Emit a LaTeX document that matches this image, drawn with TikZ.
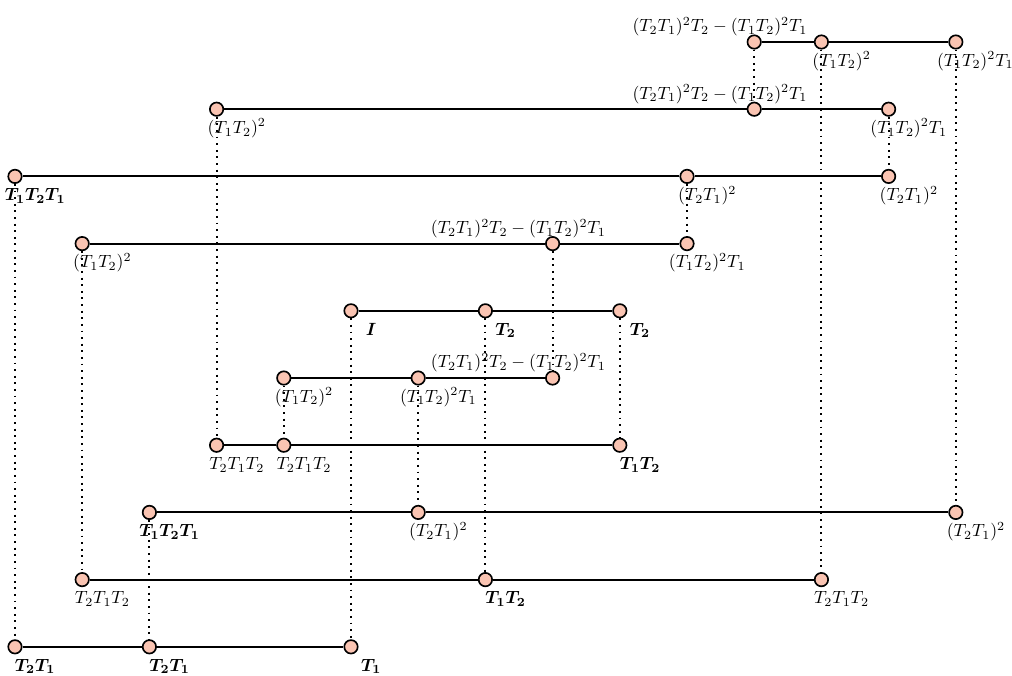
\documentclass[tikz,border=0pt]{standalone}
\usepackage{amsmath}
\definecolor{peach}{RGB}{250,196,178}
\begin{document}
\begin{tikzpicture}[
  dot/.style={circle,draw,fill=peach,minimum size=0.2cm,inner sep=0pt,line width=0.7pt},
  seg/.style={line width=0.8pt},
  guide/.style={dotted,line width=0.8pt},
  lab/.style={font=\normalsize,scale=0.75,inner sep=0pt,anchor=base},
]
\useasboundingbox (-0.223,0.625) rectangle (14.836,-9.42);
% nodes
\node[dot] (r0c11) at (11,0) {};
\node[dot] (r0c12) at (12,0) {};
\node[dot] (r0c14) at (14,0) {};
\node[dot] (r1c3) at (3,-1) {};
\node[dot] (r1c11) at (11,-1) {};
\node[dot] (r1c13) at (13,-1) {};
\node[dot] (r2c0) at (0,-2) {};
\node[dot] (r2c10) at (10,-2) {};
\node[dot] (r2c13) at (13,-2) {};
\node[dot] (r3c1) at (1,-3) {};
\node[dot] (r3c8) at (8,-3) {};
\node[dot] (r3c10) at (10,-3) {};
\node[dot] (r4c5) at (5,-4) {};
\node[dot] (r4c7) at (7,-4) {};
\node[dot] (r4c9) at (9,-4) {};
\node[dot] (r5c4) at (4,-5) {};
\node[dot] (r5c6) at (6,-5) {};
\node[dot] (r5c8) at (8,-5) {};
\node[dot] (r6c3) at (3,-6) {};
\node[dot] (r6c4) at (4,-6) {};
\node[dot] (r6c9) at (9,-6) {};
\node[dot] (r7c2) at (2,-7) {};
\node[dot] (r7c6) at (6,-7) {};
\node[dot] (r7c14) at (14,-7) {};
\node[dot] (r8c1) at (1,-8) {};
\node[dot] (r8c7) at (7,-8) {};
\node[dot] (r8c12) at (12,-8) {};
\node[dot] (r9c0) at (0,-9) {};
\node[dot] (r9c2) at (2,-9) {};
\node[dot] (r9c5) at (5,-9) {};
% horizontal segments
\draw[seg] (r0c11) -- (r0c12) -- (r0c14);
\draw[seg] (r1c3) -- (r1c11) -- (r1c13);
\draw[seg] (r2c0) -- (r2c10) -- (r2c13);
\draw[seg] (r3c1) -- (r3c8) -- (r3c10);
\draw[seg] (r4c5) -- (r4c7) -- (r4c9);
\draw[seg] (r5c4) -- (r5c6) -- (r5c8);
\draw[seg] (r6c3) -- (r6c4) -- (r6c9);
\draw[seg] (r7c2) -- (r7c6) -- (r7c14);
\draw[seg] (r8c1) -- (r8c7) -- (r8c12);
\draw[seg] (r9c0) -- (r9c2) -- (r9c5);
% vertical dotted guides
\draw[guide] (r2c0) -- (r9c0);
\draw[guide] (r3c1) -- (r8c1);
\draw[guide] (r7c2) -- (r9c2);
\draw[guide] (r1c3) -- (r6c3);
\draw[guide] (r5c4) -- (r6c4);
\draw[guide] (r4c5) -- (r9c5);
\draw[guide] (r5c6) -- (r7c6);
\draw[guide] (r4c7) -- (r8c7);
\draw[guide] (r3c8) -- (r5c8);
\draw[guide] (r4c9) -- (r6c9);
\draw[guide] (r2c10) -- (r3c10);
\draw[guide] (r0c11) -- (r1c11);
\draw[guide] (r0c12) -- (r8c12);
\draw[guide] (r1c13) -- (r2c13);
\draw[guide] (r0c14) -- (r7c14);
% labels
\node[lab] (l0a) at ([shift={(-0.51,0.15)}]r0c11) {$(T_2T_1)^2T_2-(T_1T_2)^2T_1$};
\node[lab] (l0b) at ([shift={(0.3,-0.36)}]r0c12) {$(T_1T_2)^2$};
\node[lab] (l0c) at ([shift={(0.29,-0.36)}]r0c14) {$(T_1T_2)^2T_1$};
\node[lab] (l1a) at ([shift={(0.3,-0.36)}]r1c3) {$(T_1T_2)^2$};
\node[lab] (l1b) at ([shift={(-0.51,0.15)}]r1c11) {$(T_2T_1)^2T_2-(T_1T_2)^2T_1$};
\node[lab] (l1c) at ([shift={(0.3,-0.36)}]r1c13) {$(T_1T_2)^2T_1$};
\node[lab] (l2a) at ([shift={(0.3,-0.36)}]r2c0) {$\boldsymbol{T_1T_2T_1}$};
\node[lab] (l2b) at ([shift={(0.3,-0.36)}]r2c10) {$(T_2T_1)^2$};
\node[lab] (l2c) at ([shift={(0.3,-0.36)}]r2c13) {$(T_2T_1)^2$};
\node[lab] (l3a) at ([shift={(0.3,-0.36)}]r3c1) {$(T_1T_2)^2$};
\node[lab] (l3b) at ([shift={(-0.51,0.15)}]r3c8) {$(T_2T_1)^2T_2-(T_1T_2)^2T_1$};
\node[lab] (l3c) at ([shift={(0.3,-0.36)}]r3c10) {$(T_1T_2)^2T_1$};
\node[lab] (l4a) at ([shift={(0.3,-0.36)}]r4c5) {$\boldsymbol{I}$};
\node[lab] (l4b) at ([shift={(0.3,-0.36)}]r4c7) {$\boldsymbol{T_2}$};
\node[lab] (l4c) at ([shift={(0.3,-0.36)}]r4c9) {$\boldsymbol{T_2}$};
\node[lab] (l5a) at ([shift={(0.3,-0.36)}]r5c4) {$(T_1T_2)^2$};
\node[lab] (l5b) at ([shift={(0.3,-0.36)}]r5c6) {$(T_1T_2)^2T_1$};
\node[lab] (l5c) at ([shift={(-0.51,0.15)}]r5c8) {$(T_2T_1)^2T_2-(T_1T_2)^2T_1$};
\node[lab] (l6a) at ([shift={(0.3,-0.36)}]r6c3) {$T_2T_1T_2$};
\node[lab] (l6b) at ([shift={(0.3,-0.36)}]r6c4) {$T_2T_1T_2$};
\node[lab] (l6c) at ([shift={(0.3,-0.36)}]r6c9) {$\boldsymbol{T_1T_2}$};
\node[lab] (l7a) at ([shift={(0.3,-0.36)}]r7c2) {$\boldsymbol{T_1T_2T_1}$};
\node[lab] (l7b) at ([shift={(0.3,-0.36)}]r7c6) {$(T_2T_1)^2$};
\node[lab] (l7c) at ([shift={(0.3,-0.36)}]r7c14) {$(T_2T_1)^2$};
\node[lab] (l8a) at ([shift={(0.3,-0.36)}]r8c1) {$T_2T_1T_2$};
\node[lab] (l8b) at ([shift={(0.3,-0.36)}]r8c7) {$\boldsymbol{T_1T_2}$};
\node[lab] (l8c) at ([shift={(0.3,-0.36)}]r8c12) {$T_2T_1T_2$};
\node[lab] (l9a) at ([shift={(0.3,-0.36)}]r9c0) {$\boldsymbol{T_2T_1}$};
\node[lab] (l9b) at ([shift={(0.3,-0.36)}]r9c2) {$\boldsymbol{T_2T_1}$};
\node[lab] (l9c) at ([shift={(0.3,-0.36)}]r9c5) {$\boldsymbol{T_1}$};
\end{tikzpicture}
\end{document}
